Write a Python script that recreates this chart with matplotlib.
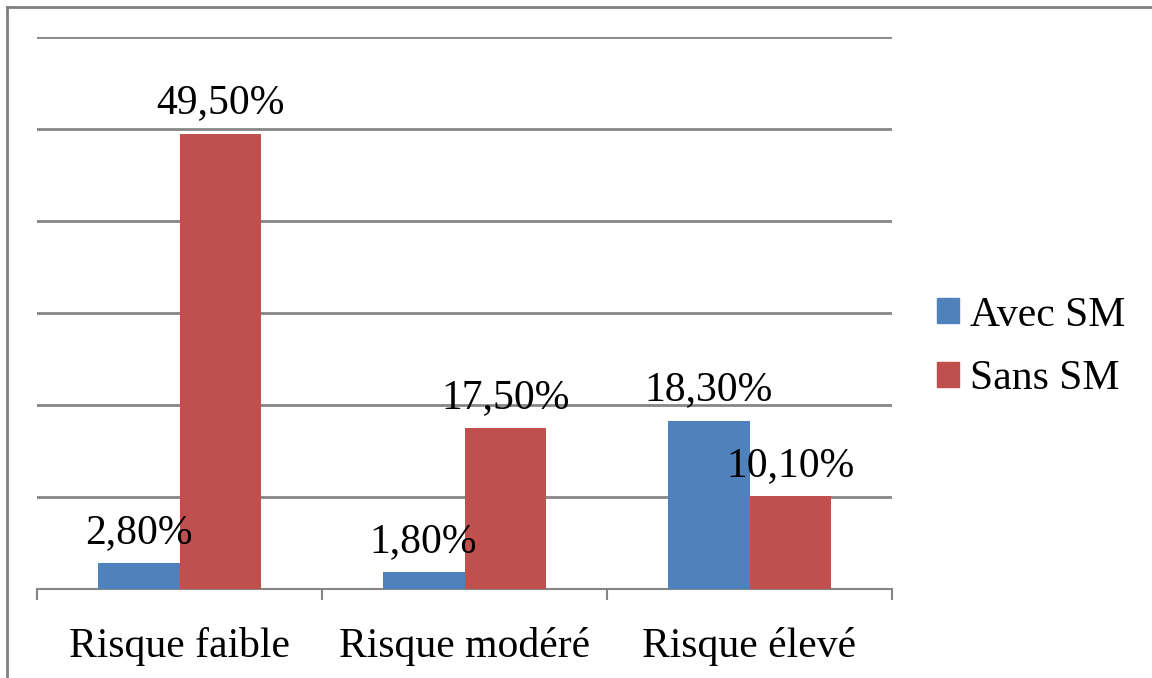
import numpy as np
import matplotlib.pyplot as plt
from matplotlib.lines import Line2D
from matplotlib.patches import Patch

categories = ["Risque faible", "Risque modéré", "Risque élevé"]
avec_sm = [2.8, 1.8, 18.3]
sans_sm = [49.5, 17.5, 10.1]
series_names = ["Avec SM", "Sans SM"]

blue = "#4F81BD"
red = "#C0504D"
grey = "#868686"

plt.rcParams['font.family'] = ['Liberation Serif', 'DejaVu Serif']
fs = 30

fig = plt.figure(figsize=(11.52, 6.78), dpi=100)
ax = fig.add_axes([37/1152, 1 - 589/678, (892-37)/1152, (589-37)/678])

x = np.arange(len(categories))
w = 0.2877
b1 = ax.bar(x - w/2, avec_sm, w, color=blue, zorder=3)
b2 = ax.bar(x + w/2, sans_sm, w, color=red, zorder=3)

def fmt(v):
    return f"{v:.2f}%".replace(".", ",")

for bars, vals in ((b1, avec_sm), (b2, sans_sm)):
    for rect, v in zip(bars, vals):
        ax.annotate(fmt(v), (rect.get_x() + rect.get_width()/2, v),
                    xytext=(0, 14.5), textcoords="offset points",
                    ha="center", va="baseline", fontsize=fs, zorder=4)

ax.set_xlim(-0.5, 2.5)
ax.set_ylim(0, 60)
ax.set_yticks(np.arange(10, 61, 10))
ax.yaxis.grid(True, color=grey, linewidth=2, zorder=0)
ax.tick_params(axis="y", left=False, labelleft=False)

ax.set_xticks(x)
ax.set_xticklabels(categories, fontsize=fs)
ax.set_xticks([-0.5, 0.5, 1.5, 2.5], minor=True)
ax.tick_params(axis="x", which="major", length=0, pad=27)
ax.tick_params(axis="x", which="minor", length=8, width=1.5, color=grey, direction="out")

for s in ("top", "right", "left"):
    ax.spines[s].set_visible(False)
ax.spines["bottom"].set_color(grey)
ax.spines["bottom"].set_linewidth(1.5)

handles = [Patch(color=blue), Patch(color=red)]
fig.legend(handles, series_names, loc="center left", bbox_to_anchor=(937/1152, 1 - 347/678),
           frameon=False, fontsize=fs, handlelength=0.53, handleheight=0.53,
           handletextpad=0.25, labelspacing=0.6, borderaxespad=0, borderpad=0)

# thin frame on the figure's left and top edges
fig.add_artist(Line2D([7/1152, 7/1152], [0, 1 - 7/678], color="#808080", linewidth=2))
fig.add_artist(Line2D([7/1152, 1], [1 - 7/678, 1 - 7/678], color="#808080", linewidth=2))

fig.savefig("out.png", dpi=100)
